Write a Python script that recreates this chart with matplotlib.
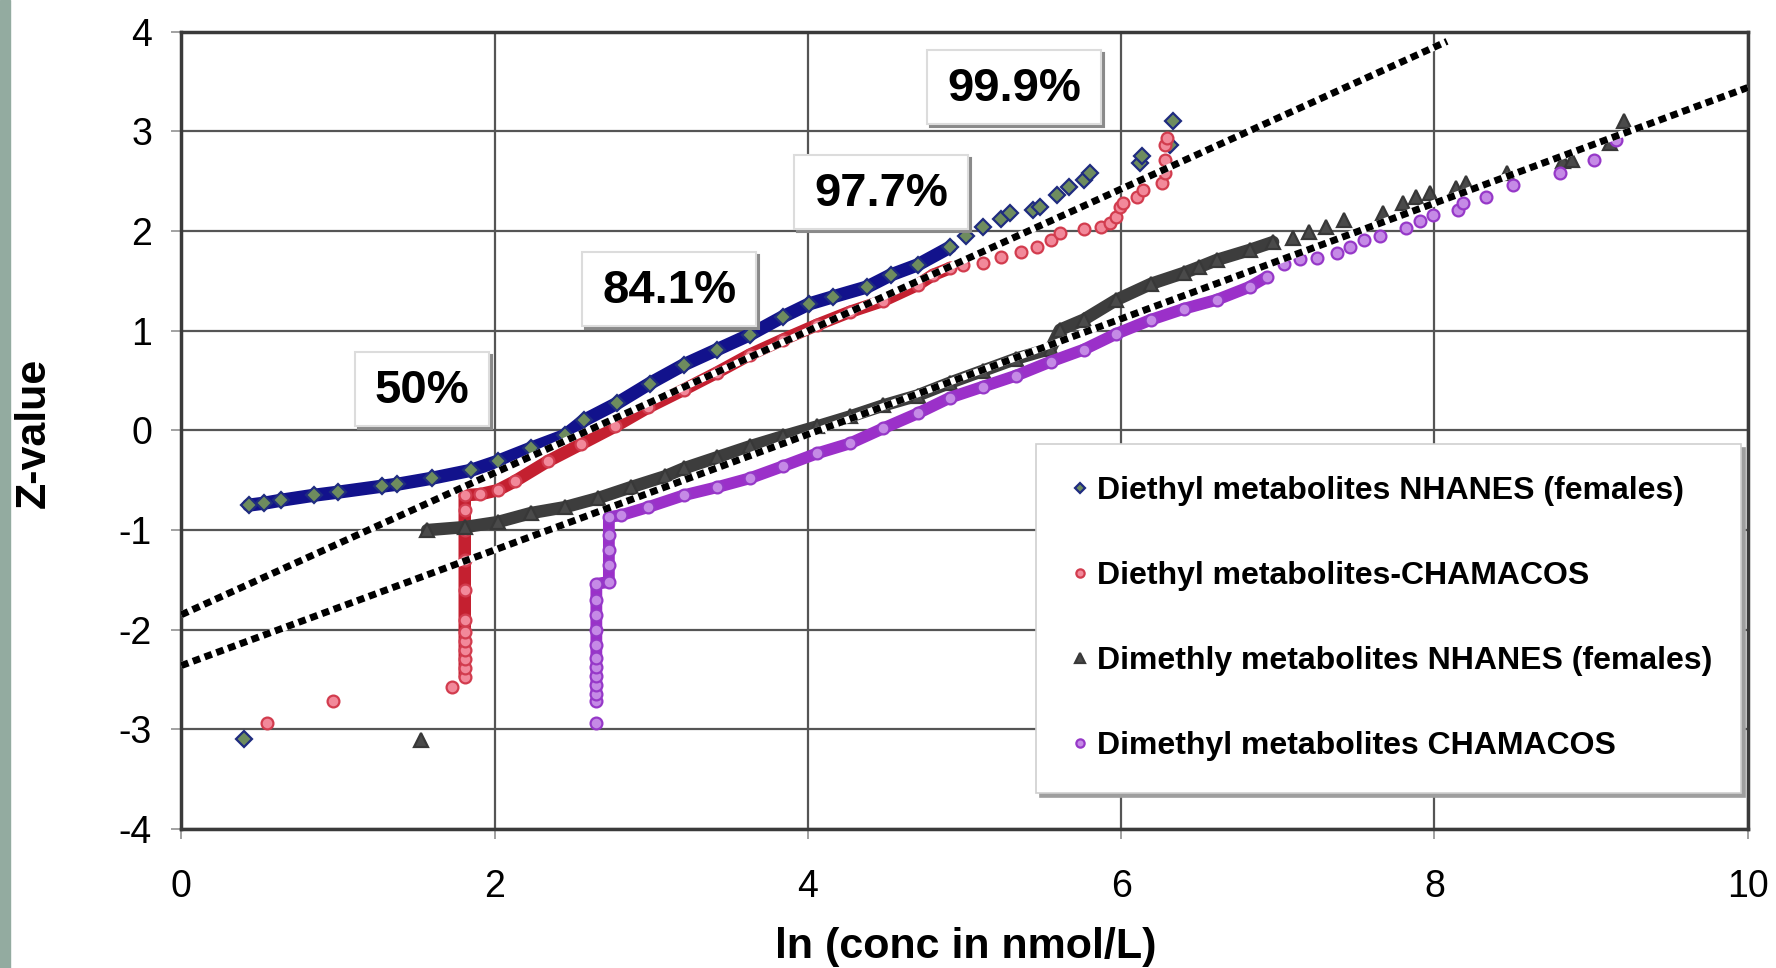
import numpy as np
import matplotlib
matplotlib.use('Agg')
import matplotlib.pyplot as plt
from matplotlib.patches import Rectangle

plt.rcParams['font.family'] = ['Liberation Sans', 'DejaVu Sans']
plt.rcParams['axes.unicode_minus'] = False

# Diethyl metabolites NHANES (females)
de_nh_x = [0.40, 0.43, 0.53, 0.64, 0.85, 1.00, 1.28, 1.38, 1.60, 1.85, 2.02, 2.23, 2.45,
           2.57, 2.78, 2.99, 3.21, 3.42, 3.63, 3.84, 4.01, 4.16, 4.38, 4.53, 4.70, 4.91,
           5.01, 5.12, 5.23, 5.29, 5.44, 5.48, 5.59, 5.67, 5.76, 5.80, 6.12, 6.13, 6.31, 6.33]
de_nh_z = [-3.10, -0.75, -0.73, -0.70, -0.65, -0.62, -0.56, -0.54, -0.48, -0.40, -0.31, -0.18, -0.05,
           0.10, 0.27, 0.47, 0.66, 0.81, 0.96, 1.14, 1.27, 1.34, 1.44, 1.56, 1.66, 1.84,
           1.95, 2.04, 2.12, 2.18, 2.21, 2.24, 2.36, 2.44, 2.51, 2.58, 2.68, 2.75, 2.86, 3.10]

# Diethyl metabolites CHAMACOS
de_ch_x = [0.55, 0.97, 1.73, 1.81, 1.81, 1.81, 1.81, 1.81, 1.81, 1.81, 1.81, 1.81, 1.81,
           1.81, 1.81, 1.91, 2.02, 2.13, 2.34, 2.55, 2.77, 2.98, 3.21, 3.42, 3.63, 3.84,
           4.06, 4.27, 4.48, 4.70, 4.80, 4.91, 4.99, 5.12, 5.23, 5.36, 5.46, 5.55, 5.61,
           5.76, 5.87, 5.93, 5.97, 5.99, 6.01, 6.10, 6.14, 6.26, 6.28, 6.28, 6.28, 6.29]
de_ch_z = [-2.94, -2.71, -2.57, -2.47, -2.38, -2.29, -2.20, -2.11, -2.02, -1.90, -1.60,
           -1.30, -1.00, -0.80, -0.65, -0.64, -0.60, -0.51, -0.31, -0.14, 0.04, 0.23, 0.41,
           0.58, 0.76, 0.91, 1.06, 1.19, 1.30, 1.46, 1.56, 1.63, 1.66, 1.68, 1.74, 1.79,
           1.84, 1.91, 1.98, 2.02, 2.04, 2.08, 2.14, 2.24, 2.28, 2.34, 2.41, 2.48, 2.58,
           2.71, 2.86, 2.93]

# Dimethyl metabolites NHANES (females)
dm_nh_x = [1.53, 1.57, 1.81, 2.02, 2.23, 2.45, 2.66, 2.87, 3.09, 3.21, 3.42, 3.63, 3.84,
           4.06, 4.27, 4.48, 4.70, 4.91, 5.12, 5.33, 5.55, 5.61, 5.76, 5.97, 6.19, 6.40,
           6.50, 6.61, 6.82, 6.97, 7.10, 7.20, 7.31, 7.42, 7.67, 7.80, 7.88, 7.97, 8.14,
           8.20, 8.46, 8.82, 8.88, 9.12, 9.21]
dm_nh_z = [-3.11, -1.00, -0.97, -0.92, -0.83, -0.77, -0.68, -0.57, -0.46, -0.38, -0.27,
           -0.16, -0.06, 0.04, 0.14, 0.25, 0.35, 0.48, 0.60, 0.72, 0.82, 1.01, 1.11, 1.31,
           1.47, 1.58, 1.64, 1.71, 1.81, 1.89, 1.93, 1.99, 2.04, 2.11, 2.18, 2.28, 2.34,
           2.38, 2.43, 2.48, 2.58, 2.70, 2.71, 2.88, 3.10]

# Dimethyl metabolites CHAMACOS
dm_ch_x = [2.65, 2.65, 2.65, 2.65, 2.65, 2.65, 2.65, 2.65, 2.65, 2.65, 2.65, 2.65,
           2.73, 2.73, 2.73, 2.73, 2.73, 2.81, 2.98, 3.21, 3.42, 3.63, 3.84, 4.06, 4.27,
           4.48, 4.70, 4.91, 5.12, 5.33, 5.55, 5.76, 5.97, 6.19, 6.40, 6.61, 6.82, 6.93,
           7.04, 7.14, 7.25, 7.38, 7.46, 7.55, 7.65, 7.82, 7.91, 7.99, 8.15, 8.18, 8.33,
           8.50, 8.80, 9.02, 9.16]
dm_ch_z = [-2.94, -2.71, -2.64, -2.55, -2.46, -2.37, -2.28, -2.15, -2.00, -1.85, -1.70,
           -1.54, -1.52, -1.35, -1.20, -1.05, -0.87, -0.85, -0.77, -0.65, -0.57, -0.48,
           -0.36, -0.23, -0.13, 0.02, 0.17, 0.33, 0.44, 0.55, 0.69, 0.81, 0.97, 1.11, 1.22,
           1.31, 1.44, 1.54, 1.67, 1.72, 1.73, 1.78, 1.84, 1.91, 1.95, 2.03, 2.10, 2.16,
           2.21, 2.28, 2.34, 2.46, 2.58, 2.71, 2.91]

labels = ['Diethyl metabolites NHANES (females)', 'Diethyl metabolites-CHAMACOS',
          'Dimethly metabolites NHANES (females)', 'Dimethyl metabolites CHAMACOS']

# normal reference lines (intercept, slope, x end)
fit_b0 = [-1.85, -2.36]
fit_b1 = [0.712, 0.58]
fit_xmax = [8.08, 10.0]

pct_text = ['50%', '84.1%', '97.7%', '99.9%']
pct_pos = [(1.537, 0.40), (3.116, 1.40), (4.468, 2.37), (5.318, 3.43)]

series = [(de_nh_x, de_nh_z), (de_ch_x, de_ch_z), (dm_nh_x, dm_nh_z), (dm_ch_x, dm_ch_z)]
styles = [
    dict(m='D', ms=8, fc='#6e8c5e', ec='#1f2c80', band='#12128c', zr=(-0.8, 1.85), lw=9.5),
    dict(m='o', ms=8.5, fc='#f2899a', ec='#d23c4e', band='#c42030', zr=(-2.5, 1.65), lw=9),
    dict(m='^', ms=9.5, fc='#4a4a4a', ec='#383838', band='#3d3d3d', zr=(-1.05, 1.9), lw=9),
    dict(m='o', ms=8.5, fc='#c58ae6', ec='#9638c8', band='#9b30c9', zr=(-2.65, 1.55), lw=8.5),
]

fig = plt.figure(figsize=(17.76, 9.68), dpi=100)
fig.patches.append(Rectangle((0, 0), 10 / 1776, 1, transform=fig.transFigure,
                             color='#93aba0', zorder=0))
ax = fig.add_axes([181.2 / 1776, 1 - 829.1 / 968, 1566.6 / 1776, 797.4 / 968])

order = [2, 0, 1, 3]
handles = {}
for i in order:
    x = np.array(series[i][0])
    z = np.array(series[i][1])
    st = styles[i]
    d = (z >= st['zr'][0]) & (z <= st['zr'][1])
    ax.plot(x[d], z[d], color=st['band'], lw=st['lw'], solid_capstyle='round',
            solid_joinstyle='round', zorder=2 + i * 0.1)
    h, = ax.plot(x, z, ls='none', marker=st['m'], ms=st['ms'], mfc=st['fc'],
                 mec=st['ec'], mew=1.6, zorder=2.05 + i * 0.1, label=labels[i])
    handles[i] = h

for b0, b1, xm in zip(fit_b0, fit_b1, fit_xmax):
    xs = np.array([0, xm])
    ys = b0 + b1 * xs
    ax.plot(xs, ys, color='white', lw=5, solid_capstyle='butt', zorder=3)
    ax.plot(xs, ys, color='black', lw=5, ls=(0, (1.1, 0.7)),
            dash_capstyle='butt', zorder=3.1)

ax.set_xlim(0, 10)
ax.set_ylim(-4, 4)
ax.set_xticks(np.arange(0, 11, 2))
ax.set_yticks(np.arange(-4, 5, 1))
ax.grid(True, color='#555555', lw=1.6)
ax.set_axisbelow(True)
ax.tick_params(axis='both', labelsize=27, length=7, width=1.3, color='#9a9a9a')
ax.tick_params(axis='x', pad=22)
ax.tick_params(axis='y', pad=14)
for s in ax.spines.values():
    s.set_color('#3a3a3a')
    s.set_linewidth(2.5)

leg = ax.legend([handles[i] for i in range(4)], labels, loc='upper left',
                bbox_to_anchor=(0.5456, 0.0, 0.450, 0.483), mode='expand',
                borderaxespad=0, prop={'weight': 'bold', 'size': 23},
                handlelength=0.75, handletextpad=0.15, borderpad=1.0,
                labelspacing=1.72, markerscale=0.7, fancybox=False, framealpha=1,
                edgecolor='#cfcfcf', shadow={'ox': 3, 'oy': -3, 'color': '0.62', 'alpha': 1})
leg.get_frame().set_linewidth(1.2)
leg.set_zorder(6)

fig.text(34 / 1776, 1 - 433 / 968, 'Z-value', rotation=90, ha='center', va='center',
         fontsize=31, fontweight='bold')
fig.text(966 / 1776, 1 - 947 / 968, 'ln (conc in nmol/L)', ha='center', va='center',
         fontsize=31, fontweight='bold')

# percentile labels in white boxes with a shadow
txts = []
for s, (px, pz) in zip(pct_text, pct_pos):
    t = ax.text(px, pz, s, ha='center', va='center', fontsize=34, fontweight='bold',
                zorder=8)
    txts.append(t)
fig.canvas.draw()
r = fig.canvas.get_renderer()
inv = ax.transAxes.inverted()
for t in txts:
    bb = t.get_window_extent(r)
    for dx, dy, fc, ec, zo in [(3, -3, '#8a8a8a', '#8a8a8a', 7), (0, 0, 'white', '#dcdcdc', 7.5)]:
        x0, y0 = inv.transform((bb.x0 - 20 + dx, bb.y0 - 13 + dy))
        x1, y1 = inv.transform((bb.x1 + 20 + dx, bb.y1 + 17 + dy))
        ax.add_patch(Rectangle((x0, y0), x1 - x0, y1 - y0, transform=ax.transAxes,
                               fc=fc, ec=ec, lw=1.5, zorder=zo, clip_on=False))

fig.savefig('out.png', dpi=100, facecolor='white')
